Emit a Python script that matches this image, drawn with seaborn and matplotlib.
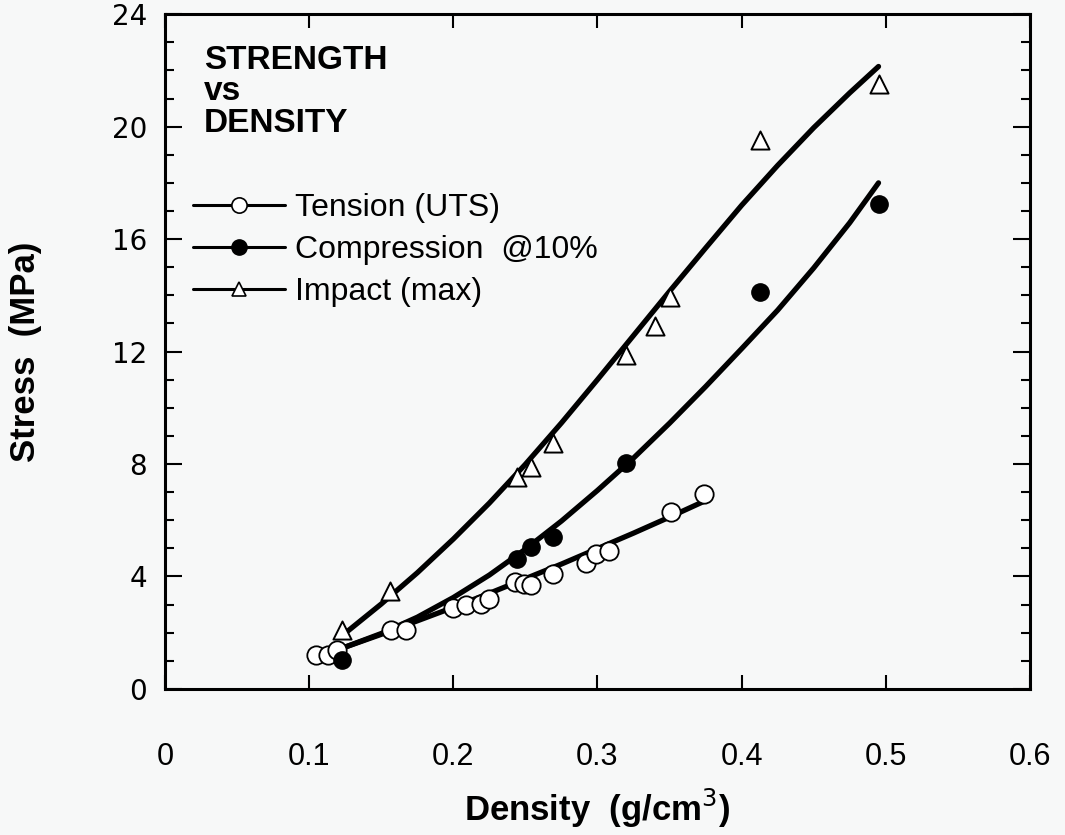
'''Resistencia vs densidad'''

import numpy as np
import matplotlib
matplotlib.use('Agg')
import matplotlib.pyplot as plt
from matplotlib.lines import Line2D
from matplotlib.ticker import MultipleLocator
import seaborn as sns

# datos ========================================================================
tension_dens = [0.105, 0.113, 0.119, 0.157, 0.167, 0.200, 0.209, 0.219, 0.225,
                0.243, 0.249, 0.254, 0.269, 0.292, 0.299, 0.308, 0.351, 0.374]
tension_stress = [1.19, 1.20, 1.37, 2.10, 2.10, 2.88, 2.97, 3.02, 3.20,
                  3.79, 3.73, 3.71, 4.07, 4.49, 4.81, 4.92, 6.28, 6.93]

compr_dens = [0.123, 0.244, 0.254, 0.269, 0.320, 0.413, 0.495]
compr_stress = [1.01, 4.63, 5.04, 5.40, 8.05, 14.11, 17.26]

impact_dens = [0.123, 0.156, 0.244, 0.254, 0.269, 0.320, 0.340, 0.350, 0.413, 0.495]
impact_stress = [2.10, 3.47, 7.55, 7.90, 8.76, 11.88, 12.92, 13.93, 19.54, 21.50]

# curvas de ajuste
tension_fit_x = [0.123, 0.15, 0.175, 0.20, 0.225, 0.25, 0.275, 0.30, 0.325, 0.35, 0.373]
tension_fit_y = [1.45, 1.94, 2.42, 2.90, 3.40, 3.92, 4.44, 4.99, 5.54, 6.11, 6.65]

compr_fit_x = [0.123, 0.15, 0.175, 0.20, 0.225, 0.25, 0.275, 0.30, 0.325, 0.35,
               0.375, 0.40, 0.425, 0.45, 0.475, 0.495]
compr_fit_y = [1.45, 1.97, 2.55, 3.25, 4.05, 4.97, 5.97, 7.06, 8.21, 9.45,
               10.75, 12.1, 13.47, 14.97, 16.58, 18.0]

impact_fit_x = [0.123, 0.15, 0.175, 0.20, 0.225, 0.25, 0.275, 0.30, 0.325, 0.35,
                0.375, 0.40, 0.425, 0.45, 0.475, 0.495]
impact_fit_y = [1.9, 3.02, 4.13, 5.33, 6.61, 7.99, 9.46, 11.0, 12.57, 14.14,
                15.68, 17.2, 18.62, 19.96, 21.2, 22.14]

x_ticks = [0, 0.1, 0.2, 0.3, 0.4, 0.5, 0.6]
x_tick_labels = ['0', '0.1', '0.2', '0.3', '0.4', '0.5', '0.6']
y_ticks = [0, 4, 8, 12, 16, 20, 24]
y_tick_labels = ['0', '4', '8', '12', '16', '20', '24']

legend_labels = ['Tension (UTS)', 'Compression  @10%', 'Impact (max)']

# figura =======================================================================
sns.set_style('ticks')
plt.rcParams['font.family'] = ['Liberation Sans', 'DejaVu Sans']
plt.rcParams['text.color'] = 'black'
plt.rcParams['axes.labelcolor'] = 'black'
plt.rcParams['xtick.color'] = 'black'
plt.rcParams['ytick.color'] = 'black'

fondo = '#f7f8f8'
fig, ax = plt.subplots(figsize=(10.65, 8.35), dpi=100)
fig.subplots_adjust(left=0.155, right=0.967, top=0.983, bottom=0.175)
fig.patch.set_facecolor(fondo)
ax.set_facecolor(fondo)

# curvas
for fx, fy in [(tension_fit_x, tension_fit_y),
               (compr_fit_x, compr_fit_y),
               (impact_fit_x, impact_fit_y)]:
    sns.lineplot(x=fx, y=fy, color='black', lw=3.8, sort=False, ax=ax,
                 solid_capstyle='round', solid_joinstyle='round', zorder=2)

# puntos
sns.scatterplot(x=tension_dens, y=tension_stress, marker='o', s=175,
                color='white', edgecolor='black', linewidth=1.3, ax=ax, zorder=3)
sns.scatterplot(x=compr_dens, y=compr_stress, marker='o', s=155,
                color='black', edgecolor='black', linewidth=1.0, ax=ax, zorder=3)
sns.scatterplot(x=impact_dens, y=impact_stress, marker='^', s=170,
                color='white', edgecolor='black', linewidth=1.4, ax=ax, zorder=3)

# leyenda
handles = [
    Line2D([], [], color='black', lw=2.2, marker='o', ms=11,
           markerfacecolor='white', markeredgecolor='black', markeredgewidth=1.2),
    Line2D([], [], color='black', lw=2.2, marker='o', ms=11,
           markerfacecolor='black', markeredgecolor='black'),
    Line2D([], [], color='black', lw=2.2, marker='^', ms=10,
           markerfacecolor='white', markeredgecolor='black', markeredgewidth=1.2),
]
ax.legend(handles, legend_labels, loc='upper left', bbox_to_anchor=(0.032, 0.735),
          frameon=False, fontsize=23, handlelength=2.9, handletextpad=0.3,
          labelspacing=0.38, borderpad=0, borderaxespad=0)

# título dentro del gráfico
ax.text(0.045, 0.955, 'STRENGTH\nvs\nDENSITY', transform=ax.transAxes,
        ha='left', va='top', fontsize=24, fontweight='bold', linespacing=1.02)

# ejes
ax.set_xlim(0, 0.6)
ax.set_ylim(0, 24)
ax.set_xticks(x_ticks, x_tick_labels)
ax.set_yticks(y_ticks, y_tick_labels)
ax.yaxis.set_minor_locator(MultipleLocator(1))

ax.tick_params(axis='x', which='major', direction='in', length=10, width=1.5,
               top=True, bottom=True, pad=38, labelsize=22)
ax.tick_params(axis='y', which='major', direction='in', length=12, width=1.5,
               left=True, right=True, pad=13, labelsize=20)
ax.tick_params(axis='y', which='minor', direction='in', length=6.5, width=1.5,
               left=True, right=True)
for lbl in ax.get_yticklabels():
    lbl.set_fontfamily('DejaVu Sans')

for sp in ax.spines.values():
    sp.set_linewidth(2.2)
    sp.set_color('black')

ax.set_xlabel('Density  (g/cm$^3$)', fontsize=25, fontweight='bold')
ax.set_ylabel('Stress  (MPa)', fontsize=25, fontweight='bold')
ax.xaxis.set_label_coords(0.5, -0.145)
ax.yaxis.set_label_coords(-0.142, 0.5)

fig.savefig('out.png', dpi=100, facecolor=fondo)
